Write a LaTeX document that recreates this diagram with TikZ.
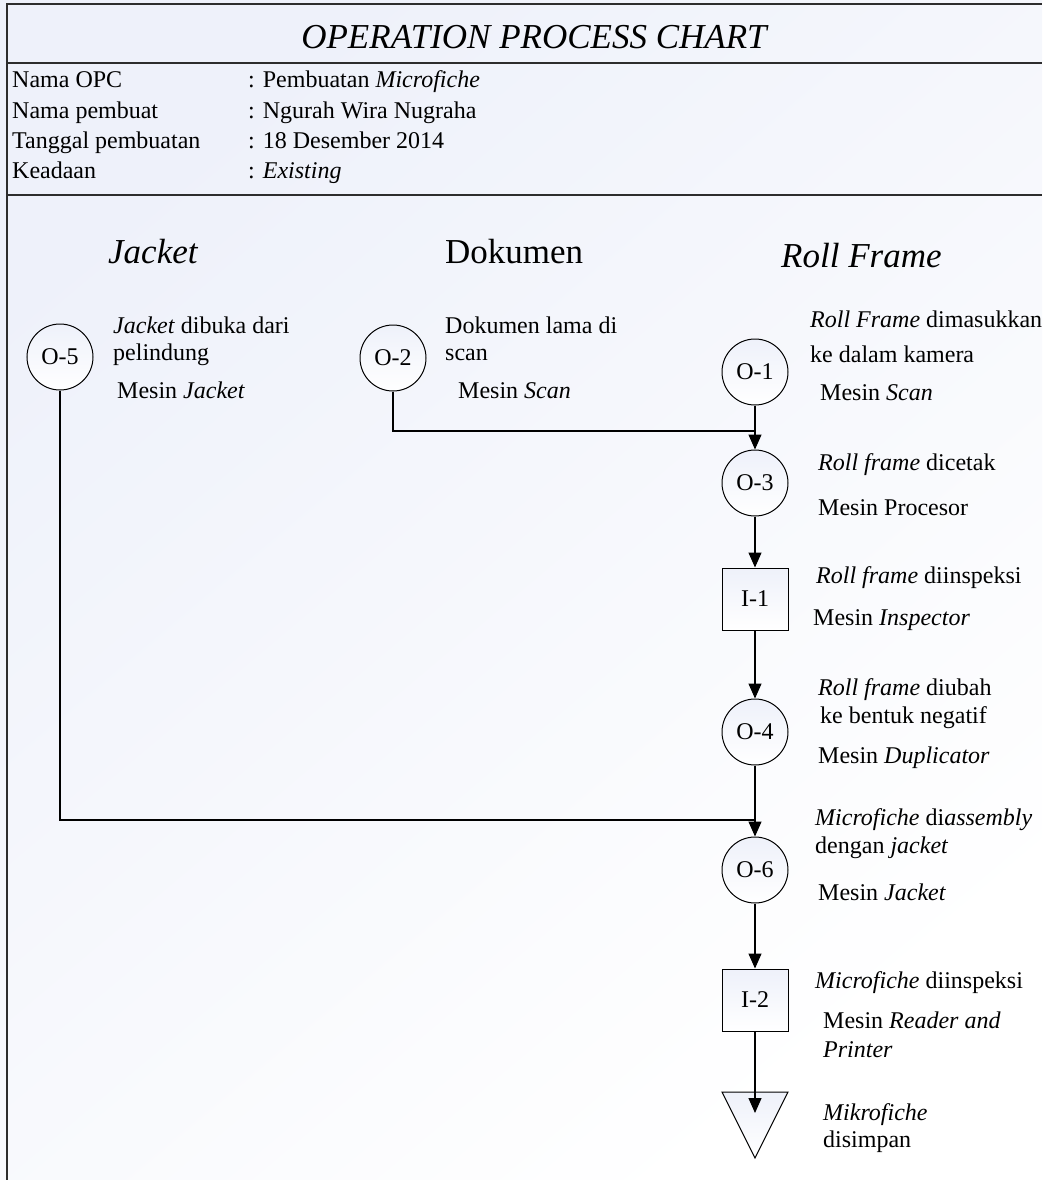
\documentclass[tikz,border=0pt]{standalone}
\usepackage{fontspec}
\setmainfont{Liberation Serif}
\usetikzlibrary{arrows.meta}
\definecolor{bgblue}{RGB}{238,241,250}
\definecolor{framegray}{RGB}{45,45,45}
\begin{document}
\begin{tikzpicture}[x=1pt,y=-1pt,
  frameline/.style={draw=framegray,line width=1.8pt},
  opnode/.style={circle,draw,line width=1pt,minimum size=66pt,inner sep=0pt,top color=bgblue,bottom color=white,font=\fontsize{24}{28}\selectfont},
  inspnode/.style={rectangle,draw,line width=1pt,minimum width=66pt,minimum height=62pt,inner sep=0pt,top color=bgblue,bottom color=white,font=\fontsize{24}{28}\selectfont},
  lbl/.style={anchor=base west,inner sep=0pt,font=\fontsize{24}{28}\selectfont},
  info/.style={anchor=base west,inner sep=0pt,font=\fontsize{24}{28}\selectfont},
  hdr/.style={anchor=base west,inner sep=0pt,font=\fontsize{35}{40}\selectfont},
  flow/.style={line width=1.3pt},
  arr/.style={flow,-{Triangle[width=13pt,length=15pt]}}]
\useasboundingbox (0,0) rectangle (1042,1180);
% background
\shade[top color=bgblue,middle color=white,bottom color=white,shading angle=40] (0,0) rectangle (1042,1180);
% frame
\draw[frameline] (7,1180) -- (7,4) -- (1042,4);
\draw[frameline] (7,63) -- (1042,63);
\draw[frameline] (7,195) -- (1042,195);
% title
\node[anchor=base,inner sep=0pt,font=\fontsize{35}{40}\selectfont\itshape] (title) at (534,49) {OPERATION PROCESS CHART};
% info block
\node[info] (k1) at (12,88) {Nama OPC};
\node[info] (k2) at (12,118) {Nama pembuat};
\node[info] (k3) at (12,148) {Tanggal pembuatan};
\node[info] (k4) at (12,178) {Keadaan};
\node[info] (v1) at (248,88) {: Pembuatan \textit{Microfiche}};
\node[info] (v2) at (248,118) {: Ngurah Wira Nugraha};
\node[info] (v3) at (248,148) {: 18 Desember 2014};
\node[info] (v4) at (248,178) {: \textit{Existing}};
% column headers
\node[hdr] (hjacket) at (108,263) {\textit{Jacket}};
\node[hdr] (hdok) at (445,263) {Dokumen};
\node[hdr] (hroll) at (781,267) {\textit{Roll Frame}};
% symbols
\node[opnode] (o5) at (60,357) {O-5};
\node[opnode] (o2) at (393,358) {O-2};
\node[opnode] (o1) at (755,372) {O-1};
\node[opnode] (o3) at (755,483) {O-3};
\node[inspnode] (i1) at (755,599) {I-1};
\node[opnode] (o4) at (755,732) {O-4};
\node[opnode] (o6) at (755,870) {O-6};
\node[inspnode] (i2) at (755,1000) {I-2};
\shade[draw,line width=1pt,top color=bgblue,bottom color=white] (722,1092) -- (788,1092) -- (755,1158) -- cycle;
\coordinate (j1) at (755,431);
\coordinate (j2) at (755,820);
\coordinate (st) at (755,1113);
% connectors
\draw[flow] (o2.south) |- (j1);
\draw[arr] (o1) -- (o3);
\draw[arr] (o3) -- (i1);
\draw[arr] (i1) -- (o4);
\draw[flow] (o5.south) |- (j2);
\draw[arr] (o4) -- (o6);
\draw[arr] (o6) -- (i2);
\draw[arr] (i2.south) -- (st);
% labels
\node[lbl] (l5a) at (113,333) {\textit{Jacket} dibuka dari};
\node[lbl] (l5b) at (113,360) {pelindung};
\node[lbl] (l5c) at (117,398) {Mesin \textit{Jacket}};
\node[lbl] (l2a) at (445,333) {Dokumen lama di};
\node[lbl] (l2b) at (445,360) {scan};
\node[lbl] (l2c) at (458,398) {Mesin \textit{Scan}};
\node[lbl] (l1a) at (810,327) {\textit{Roll Frame} dimasukkan};
\node[lbl] (l1b) at (810,362) {ke dalam kamera};
\node[lbl] (l1c) at (820,400) {Mesin \textit{Scan}};
\node[lbl] (l3a) at (818,470) {\textit{Roll frame} dicetak};
\node[lbl] (l3b) at (818,515) {Mesin Procesor};
\node[lbl] (li1a) at (816,583) {\textit{Roll frame} diinspeksi};
\node[lbl] (li1b) at (813,625) {Mesin \textit{Inspector}};
\node[lbl] (l4a) at (818,695) {\textit{Roll frame} diubah};
\node[lbl] (l4b) at (820,723) {ke bentuk negatif};
\node[lbl] (l4c) at (818,763) {Mesin \textit{Duplicator}};
\node[lbl] (l6a) at (815,825) {\textit{Microfiche} di\textit{assembly}};
\node[lbl] (l6b) at (815,853) {dengan \textit{jacket}};
\node[lbl] (l6c) at (818,900) {Mesin \textit{Jacket}};
\node[lbl] (li2a) at (815,988) {\textit{Microfiche} diinspeksi};
\node[lbl] (li2b) at (823,1028) {Mesin \textit{Reader and}};
\node[lbl] (li2c) at (823,1057) {\textit{Printer}};
\node[lbl] (lsa) at (823,1120) {\textit{Mikrofiche}};
\node[lbl] (lsb) at (823,1147) {disimpan};
\end{tikzpicture}
\end{document}
